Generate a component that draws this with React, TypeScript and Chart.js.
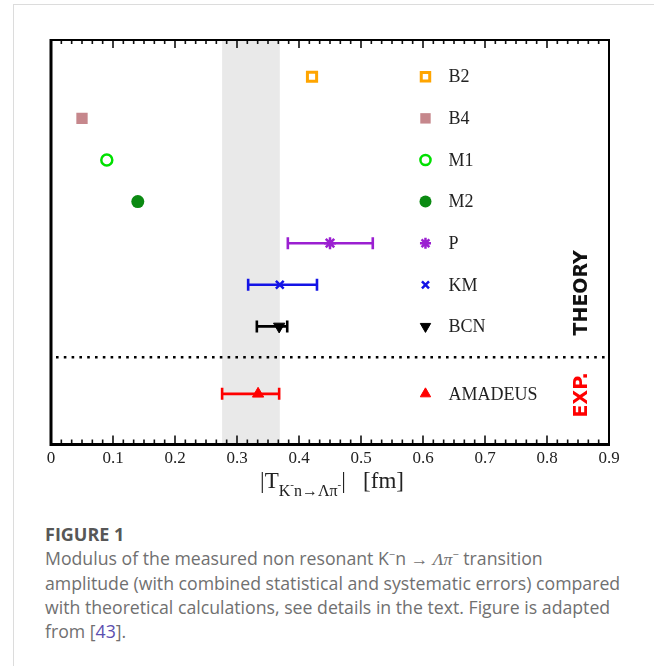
import React, { useEffect, useRef } from 'react';
import { Chart, registerables } from 'chart.js';
import { drawPoint } from 'chart.js/helpers';

Chart.register(...registerables);

// ---- data ----
const models = ['B2', 'B4', 'M1', 'M2', 'P', 'KM', 'BCN', 'AMADEUS'];
const amplitudes = [0.421, 0.05, 0.09, 0.14, 0.45, 0.369, 0.368, 0.334];
const errLow: (number | null)[] = [null, null, null, null, 0.382, 0.318, 0.332, 0.276];
const errHigh: (number | null)[] = [null, null, null, null, 0.519, 0.429, 0.381, 0.368];
const rows = [9, 8, 7, 6, 5, 4, 3, 1.38];
const separatorRow = 2.26;
const bandRange = [0.276, 0.369];
const xTickValues = [0, 0.1, 0.2, 0.3, 0.4, 0.5, 0.6, 0.7, 0.8, 0.9];
const xTickLabels = ['0', '0.1', '0.2', '0.3', '0.4', '0.5', '0.6', '0.7', '0.8', '0.9'];

// ---- styles ----
const pointStyles = ['rect', 'rect', 'circle', 'circle', 'star', 'crossRot', 'triangle', 'triangle'];
const rotations = [0, 0, 0, 0, 0, 0, 180, 0];
const strokeColors = ['#ffa500', '#c6878c', '#00e000', '#0b8a12', '#9b1fd1', '#1414e6', '#000000', '#ff0000'];
const fillColors = ['#ffffff', '#c6878c', '#ffffff', '#0b8a12', '#9b1fd1', '#1414e6', '#000000', '#ff0000'];
const radii = [6.5, 8, 5.5, 6.5, 6, 5.5, 6.5, 6.5];
const borderWidths = [3, 0, 2.5, 0, 2.5, 2.5, 1, 1];

const serif = '"Liberation Serif", "Times New Roman", serif';

const customPlugin = {
  id: 'custom',
  beforeDatasetsDraw(chart: any) {
    const { ctx, chartArea, scales } = chart;
    const { left, right, top, bottom } = chartArea;
    const x = scales.x;
    const y = scales.y;
    ctx.save();
    // shaded band
    const b0 = x.getPixelForValue(bandRange[0]);
    const b1 = x.getPixelForValue(bandRange[1]);
    ctx.fillStyle = '#e9e9e9';
    ctx.fillRect(b0, top, b1 - b0, bottom - top);
    // dotted separator
    const sy = y.getPixelForValue(separatorRow);
    ctx.strokeStyle = '#000';
    ctx.lineWidth = 2.6;
    ctx.setLineDash([2.6, 5.2]);
    ctx.beginPath();
    ctx.moveTo(left + 5, sy);
    ctx.lineTo(right - 4, sy);
    ctx.stroke();
    ctx.setLineDash([]);
    // error bars
    models.forEach((_, i) => {
      const lo = errLow[i];
      const hi = errHigh[i];
      if (lo == null || hi == null) return;
      const py = y.getPixelForValue(rows[i]);
      const x0 = x.getPixelForValue(lo);
      const x1 = x.getPixelForValue(hi);
      ctx.strokeStyle = strokeColors[i];
      ctx.lineWidth = 2.6;
      ctx.beginPath();
      ctx.moveTo(x0, py);
      ctx.lineTo(x1, py);
      ctx.moveTo(x0, py - 6);
      ctx.lineTo(x0, py + 6);
      ctx.moveTo(x1, py - 6);
      ctx.lineTo(x1, py + 6);
      ctx.stroke();
    });
    ctx.restore();
  },
  afterDatasetsDraw(chart: any) {
    const { ctx, chartArea, scales } = chart;
    const { left, right, top, bottom } = chartArea;
    const x = scales.x;
    const y = scales.y;
    ctx.save();
    // ticks (major every 0.1, 5 minor between)
    ctx.strokeStyle = '#111';
    ctx.lineWidth = 1.6;
    for (let k = 0; k <= 54; k++) {
      const v = k / 60;
      const px = x.getPixelForValue(v);
      if (px < left + 1 || px > right - 1) continue;
      const major = k % 6 === 0;
      const lb = major ? 9 : 5;
      const lt = major ? 8 : 4;
      ctx.beginPath();
      ctx.moveTo(px, bottom);
      ctx.lineTo(px, bottom - lb);
      ctx.moveTo(px, top);
      ctx.lineTo(px, top + lt);
      ctx.stroke();
    }
    // frame
    ctx.strokeStyle = '#000';
    ctx.lineWidth = 2;
    ctx.beginPath();
    ctx.moveTo(left, top);
    ctx.lineTo(right, top);
    ctx.lineTo(right, bottom);
    ctx.stroke();
    ctx.lineWidth = 3;
    ctx.beginPath();
    ctx.moveTo(left, top - 1);
    ctx.lineTo(left, bottom);
    ctx.lineTo(right + 1, bottom);
    ctx.stroke();

    // legend
    const lx = x.getPixelForValue(0.604);
    models.forEach((name, i) => {
      const py = y.getPixelForValue(rows[i]);
      ctx.fillStyle = fillColors[i];
      ctx.strokeStyle = strokeColors[i];
      ctx.lineWidth = borderWidths[i];
      const r = i === 5 ? 5 : radii[i] * 0.92;
      drawPoint(ctx, { pointStyle: pointStyles[i] as any, rotation: rotations[i], radius: r, borderWidth: borderWidths[i] } as any, lx, py);
      ctx.fillStyle = '#222';
      ctx.font = `18px ${serif}`;
      ctx.textAlign = 'left';
      ctx.textBaseline = 'middle';
      ctx.fillText(name, lx + 23, py + 1);
    });

    // THEORY / EXP. labels
    const tx = right - 27;
    ctx.font = 'bold 19px "DejaVu Sans", sans-serif';
    ctx.textAlign = 'center';
    ctx.textBaseline = 'middle';
    ctx.save();
    ctx.translate(tx, (y.getPixelForValue(rows[4]) + y.getPixelForValue(rows[6])) / 2 + 8);
    ctx.rotate(-Math.PI / 2);
    ctx.fillStyle = '#111';
    ctx.fillText('THEORY', 0, 0);
    ctx.restore();
    ctx.save();
    ctx.translate(tx, y.getPixelForValue(rows[7]) + 1);
    ctx.rotate(-Math.PI / 2);
    ctx.fillStyle = '#ff0000';
    ctx.fillText('EXP.', 0, 0);
    ctx.restore();

    // x-axis title: |T_{K^- n -> Λπ^-}|  [fm]
    const parts = [
      { t: '|T', s: 23, dy: 0 },
      { t: 'K', s: 16, dy: 8 },
      { t: '-', s: 11, dy: 0 },
      { t: 'n', s: 16, dy: 8 },
      { t: '\u2192', s: 16, dy: 8 },
      { t: '\u039B\u03C0', s: 16, dy: 8 },
      { t: '-', s: 11, dy: 0 },
      { t: '|', s: 23, dy: 0 },
      { t: '   [fm]', s: 23, dy: 0 },
    ];
    ctx.textAlign = 'left';
    ctx.textBaseline = 'alphabetic';
    ctx.fillStyle = '#222';
    let total = 0;
    const widths = parts.map((p) => {
      ctx.font = `${p.s}px ${serif}`;
      const w = ctx.measureText(p.t).width;
      total += w;
      return w;
    });
    let cx = (left + right) / 2 + 2 - total / 2;
    const baseY = bottom + 43;
    parts.forEach((p, i) => {
      ctx.font = `${p.s}px ${serif}`;
      ctx.fillText(p.t, cx, baseY + p.dy);
      cx += widths[i];
    });
    ctx.restore();
  },
};

export default function App() {
  const ref = useRef<HTMLCanvasElement | null>(null);
  useEffect(() => {
    if (!ref.current) return;
    const chart = new Chart(ref.current, {
      type: 'scatter',
      data: {
        datasets: models.map((name, i) => ({
          label: name,
          data: [{ x: amplitudes[i], y: rows[i] }],
          pointStyle: pointStyles[i] as any,
          pointRotation: rotations[i],
          pointRadius: radii[i],
          pointBorderWidth: borderWidths[i],
          borderColor: strokeColors[i],
          backgroundColor: fillColors[i],
          showLine: false,
        })),
      },
      options: {
        animation: false,
        responsive: false,
        devicePixelRatio: 1,
        layout: { padding: { left: 51, right: 45, top: 40, bottom: 47 } },
        plugins: {
          legend: { display: false },
          tooltip: { enabled: false },
        },
        scales: {
          x: {
            type: 'linear',
            min: 0,
            max: 0.9,
            afterBuildTicks: (scale: any) => {
              scale.ticks = xTickValues.map((v) => ({ value: v }));
            },
            grid: { display: false, drawTicks: false },
            border: { display: false },
            ticks: {
              padding: 4,
              maxRotation: 0,
              autoSkip: false,
              color: '#222',
              font: { family: serif, size: 17 },
              callback: (_v: any, idx: number) => xTickLabels[idx],
            },
          },
          y: {
            type: 'linear',
            display: false,
            min: 0.16,
            max: 9.883,
          },
        },
      },
      plugins: [customPlugin],
    });
    return () => chart.destroy();
  }, []);

  return (
    <div style={{ position: 'fixed', left: 0, top: 0, width: 654, height: 666, overflow: 'hidden', background: '#fff' }}>
      <div
        style={{
          position: 'absolute',
          left: 13,
          top: 4,
          width: 800,
          height: 800,
          border: '1px solid #dcdcdc',
          boxSizing: 'border-box',
        }}
      />
      <canvas ref={ref} width={654} height={520} style={{ position: 'absolute', left: 0, top: 0, width: 654, height: 520 }} />
      <div
        style={{
          position: 'absolute',
          left: 45,
          top: 522,
          width: 600,
          fontFamily: '"Open Sans", "Noto Sans", sans-serif',
          fontSize: 17.7,
          lineHeight: '24px',
          color: '#707070',
          whiteSpace: 'nowrap',
        }}
      >
        <div style={{ fontWeight: 700, color: '#575757', fontSize: 18 }}>FIGURE 1</div>
        <div>
          Modulus of the measured non resonant K
          <sup style={{ fontSize: 11, lineHeight: 0 }}>−</sup>n → <span style={{ fontFamily: serif, fontStyle: 'italic' }}>Λπ</span>
          <sup style={{ fontSize: 11, lineHeight: 0 }}>−</sup> transition
          <br />
          amplitude (with combined statistical and systematic errors) compared
          <br />
          with theoretical calculations, see details in the text. Figure is adapted
          <br />
          from [<span style={{ color: '#5b4fb0' }}>43</span>].
        </div>
      </div>
    </div>
  );
}
